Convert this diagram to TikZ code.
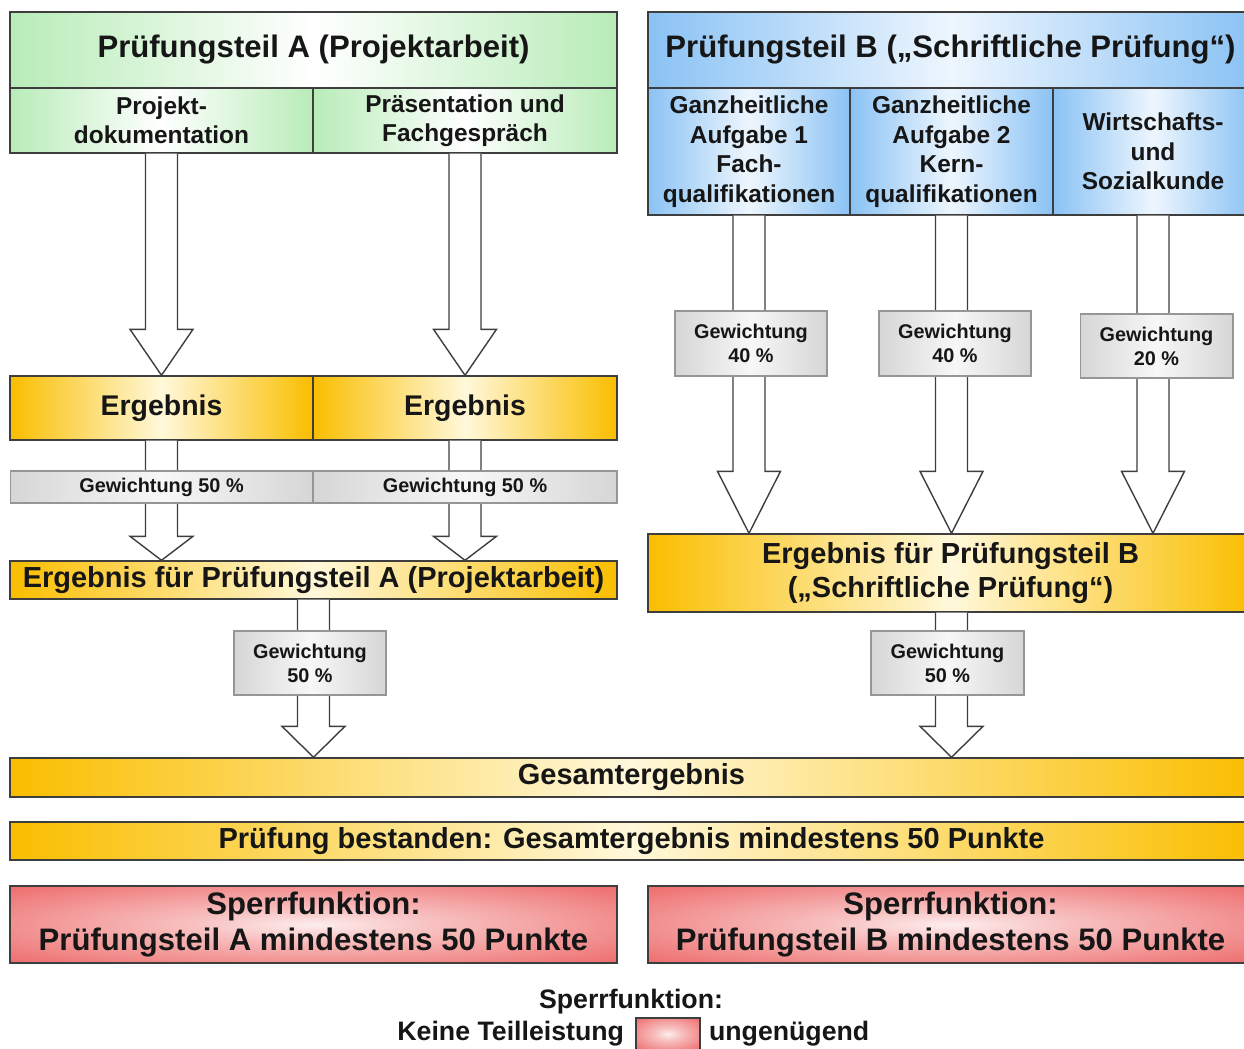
\documentclass[tikz,border=0pt]{standalone}
\usepackage{fontspec}
\setmainfont{Liberation Sans}
\usetikzlibrary{calc,positioning}
\definecolor{boxline}{RGB}{62,62,62}
\definecolor{textdark}{RGB}{22,22,22}
\definecolor{headgreen}{RGB}{184,236,184}
\definecolor{headblue}{RGB}{138,194,244}
\definecolor{resgold}{RGB}{250,190,0}
\definecolor{resmid}{RGB}{255,248,218}
\definecolor{wgray}{RGB}{214,214,214}
\definecolor{wlight}{RGB}{247,247,247}
\definecolor{sperrred}{RGB}{234,76,76}
\pgfdeclareradialshading{sperrglow}{\pgfpoint{0bp}{0bp}}{%
  color(0bp)=(white!90!sperrred); color(10bp)=(white!65!sperrred);
  color(45bp)=(sperrred); color(100bp)=(sperrred)}
\tikzset{
  box/.style={
    draw=boxline,
    line width=0.8pt,
    inner sep=0pt,
    align=center,
    text=textdark
  },
  greenhead/.style={box, left color=headgreen, right color=headgreen, middle color=white},
  bluehead/.style={box, left color=headblue, right color=headblue, middle color=white!85!headblue},
  goldbox/.style={box, left color=resgold, right color=resgold, middle color=resmid},
  graybox/.style={box, draw=wgray!70!black, line width=0.6pt, left color=wgray, right color=wgray, middle color=wlight},
  sperrbox/.style={box, shading=sperrglow},
  fatarrow/.style={draw=boxline, fill=white, line width=0.8pt, line join=miter},
  titlefont/.style={font=\fontsize{17.7}{21}\selectfont\bfseries},
  subfont/.style={font=\fontsize{13.9}{16.8}\selectfont\bfseries},
  ergfont/.style={font=\fontsize{16.2}{19.5}\selectfont\bfseries},
  resfont/.style={font=\fontsize{16.5}{19.8}\selectfont\bfseries},
  wfont/.style={font=\fontsize{11.3}{13.6}\selectfont\bfseries},
  legfont/.style={font=\fontsize{15.2}{17.6}\selectfont\bfseries}
}
% block arrow: start, tip, head length
\newcommand{\blockarrow}[3]{%
  \path[fatarrow] let \p1=(#1), \p2=(#2) in
    (\x1-0.32cm,\y1) -- (\x1-0.32cm,\y2+#3) -- (\x1-0.63cm,\y2+#3)
    -- (\x1,\y2) -- (\x1+0.63cm,\y2+#3) -- (\x1+0.32cm,\y2+#3)
    -- (\x1+0.32cm,\y1);
}

\begin{document}
\begin{tikzpicture}[x=0.02cm, y=-0.02cm]
  \useasboundingbox (0,0) rectangle (1244,1048);

  % Pruefungsteil A
  \node[greenhead, titlefont, minimum width=12.14cm, minimum height=1.52cm] (titleA) at (313.5,50)
    {Prüfungsteil A (Projektarbeit)};
  \node[greenhead, subfont, minimum width=6.06cm, minimum height=1.3cm] (subA1) at (161.5,120.5)
    {Projekt-\\dokumentation};
  \node[greenhead, subfont, minimum width=6.08cm, minimum height=1.3cm] (subA2) at (465,120.5)
    {Präsentation und\\Fachgespräch};
  \node[goldbox, ergfont, minimum width=6.06cm, minimum height=1.28cm] (ergA1) at (161.5,408) {Ergebnis};
  \node[goldbox, ergfont, minimum width=6.08cm, minimum height=1.28cm] (ergA2) at (465,408) {Ergebnis};
  \node[goldbox, resfont, minimum width=12.14cm, minimum height=0.76cm] (ergA) at (313.5,580)
    {Ergebnis für Prüfungsteil A (Projektarbeit)};

  % Pruefungsteil B
  \node[bluehead, titlefont, minimum width=12.1cm, minimum height=1.52cm] (titleB) at (950.5,50)
    {Prüfungsteil B („Schriftliche Prüfung“)};
  \node[bluehead, subfont, minimum width=4.04cm, minimum height=2.54cm] (subB1) at (749,151.5)
    {Ganzheitliche\\Aufgabe 1\\Fach-\\qualifikationen};
  \node[bluehead, subfont, minimum width=4.06cm, minimum height=2.54cm] (subB2) at (951.5,151.5)
    {Ganzheitliche\\Aufgabe 2\\Kern-\\qualifikationen};
  \node[bluehead, subfont, minimum width=4cm, minimum height=2.54cm] (subB3) at (1153,151.5)
    {Wirtschafts-\\und\\Sozialkunde};
  \node[goldbox, resfont, minimum width=12.1cm, minimum height=1.56cm] (ergB) at (950.5,573)
    {Ergebnis für Prüfungsteil B\\(„Schriftliche Prüfung“)};

  % Gesamt
  \node[goldbox, resfont, minimum width=24.86cm, minimum height=0.78cm] (total) at (631.5,777.5)
    {Gesamtergebnis};
  \node[goldbox, resfont, minimum width=24.86cm, minimum height=0.76cm] (pass) at (631.5,841)
    {Prüfung bestanden: Gesamtergebnis mindestens 50 Punkte};

  \blockarrow{subA1.south}{subA1.south |- ergA1.north}{0.92cm}
  \blockarrow{subA2.south}{subA2.south |- ergA2.north}{0.92cm}
  \blockarrow{ergA1.south}{ergA1.south |- ergA.north}{0.48cm}
  \blockarrow{ergA2.south}{ergA2.south |- ergA.north}{0.48cm}
  \blockarrow{ergA.south}{ergA.south |- total.north}{0.62cm}
  \blockarrow{subB1.south}{subB1.south |- ergB.north}{1.24cm}
  \blockarrow{subB2.south}{subB2.south |- ergB.north}{1.24cm}
  \blockarrow{subB3.south}{subB3.south |- ergB.north}{1.24cm}
  \blockarrow{ergB.south -| subB2.south}{subB2.south |- total.north}{0.62cm}

  % Gewichtung
  \node[graybox, wfont, minimum width=6.06cm, minimum height=0.64cm] (wA1) at (161.5,487) {Gewichtung 50 \%};
  \node[graybox, wfont, minimum width=6.08cm, minimum height=0.64cm] (wA2) at (465,487) {Gewichtung 50 \%};
  \node[graybox, wfont, minimum width=3.04cm, minimum height=1.28cm] (wA) at (310,663) {Gewichtung\\50 \%};
  \node[graybox, wfont, minimum width=3.04cm, minimum height=1.3cm] (wB1) at (751,343.5) {Gewichtung\\40 \%};
  \node[graybox, wfont, minimum width=3.04cm, minimum height=1.3cm] (wB2) at (955,343.5) {Gewichtung\\40 \%};
  \node[graybox, wfont, minimum width=3.06cm, minimum height=1.28cm] (wB3) at (1156.5,346) {Gewichtung\\20 \%};
  \node[graybox, wfont, minimum width=3.06cm, minimum height=1.28cm] (wB) at (947.5,663) {Gewichtung\\50 \%};

  % Sperrfunktion
  \node[sperrbox, titlefont, minimum width=12.14cm, minimum height=1.54cm] (lockA) at (313.5,924.5)
    {Sperrfunktion:\\Prüfungsteil A mindestens 50 Punkte};
  \node[sperrbox, titlefont, minimum width=12.1cm, minimum height=1.54cm] (lockB) at (950.5,924.5)
    {Sperrfunktion:\\Prüfungsteil B mindestens 50 Punkte};

  \node[legfont, text=textdark] (legtitle) at (631,1002) {Sperrfunktion:};
  \node[sperrbox, minimum width=1.28cm, minimum height=0.64cm] (legkey) at (668,1034) {};
  \node[legfont, text=textdark, inner sep=0pt, left=0.22cm of legkey] (legleft) {Keine Teilleistung};
  \node[legfont, text=textdark, inner sep=0pt, right=0.16cm of legkey] (legright) {ungenügend};
\end{tikzpicture}
\end{document}
